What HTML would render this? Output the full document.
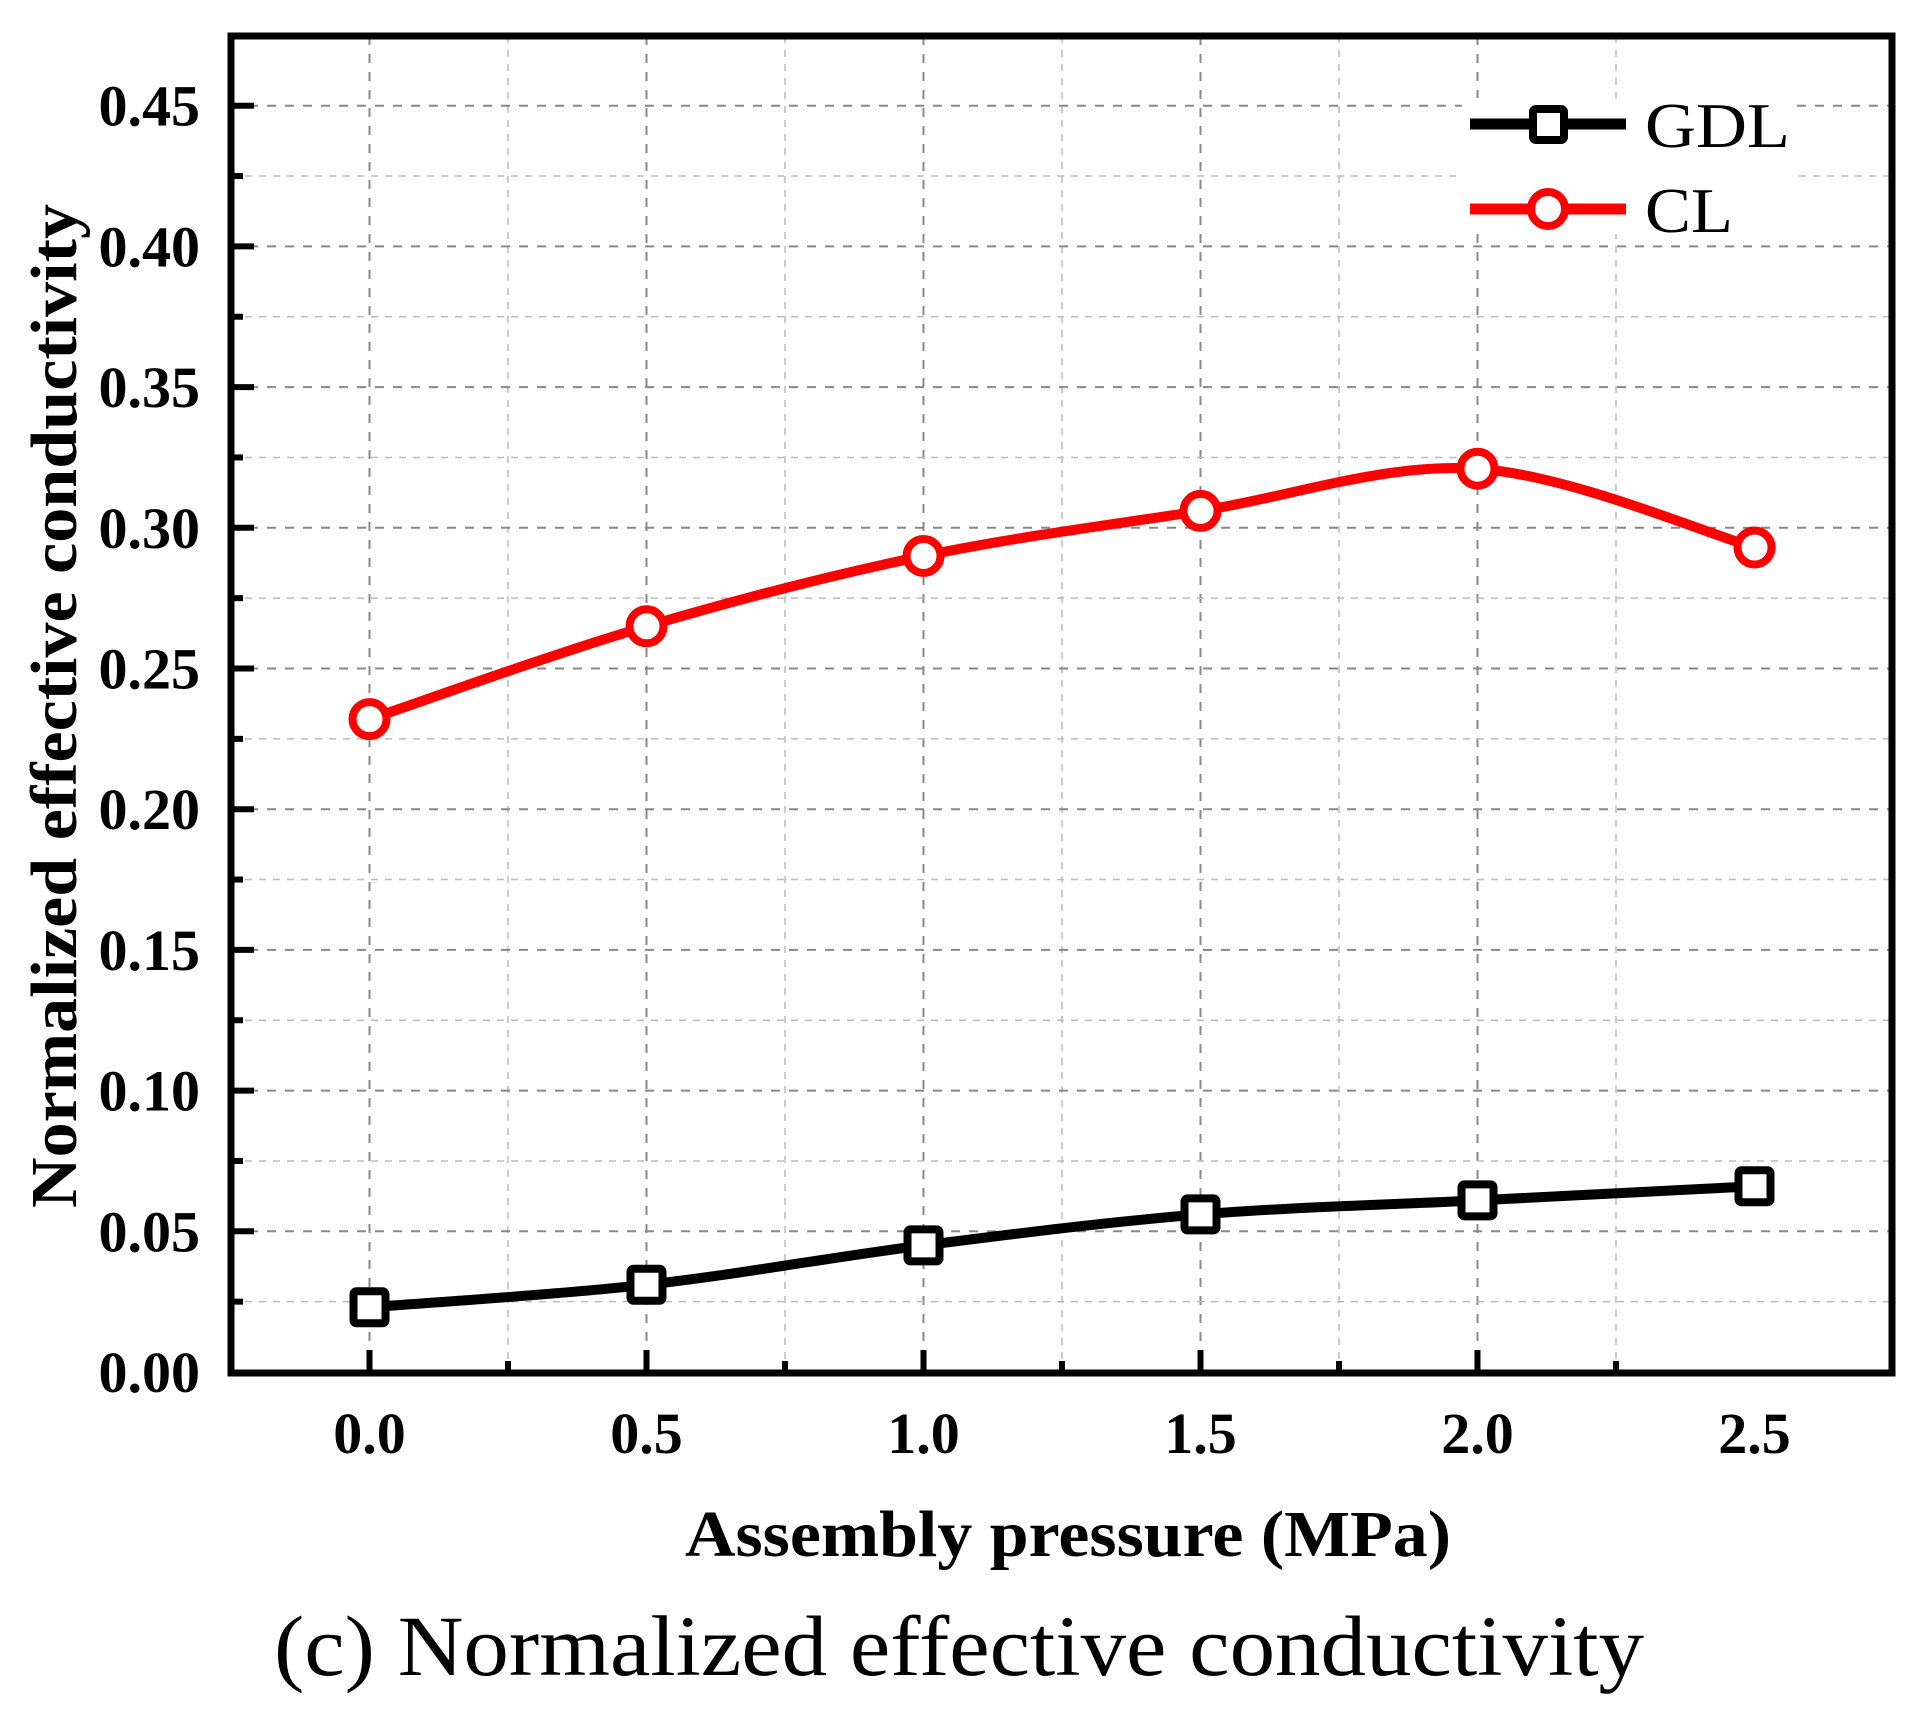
<!DOCTYPE html>
<html><head><meta charset="utf-8"><style>
html,body{margin:0;padding:0;background:#fff;}
svg{display:block;}
</style></head><body>
<svg id="chart" width="1924" height="1717" viewBox="0 0 1924 1717" xmlns="http://www.w3.org/2000/svg" font-family="'Liberation Serif', serif">
<g id="grid"></g>
<g id="series"></g>
<g id="axes"></g>
<g id="legend">
  <rect x="1462" y="98" width="334" height="136" fill="#fff"/>
  <g>
    <line x1="1470" y1="124" x2="1626" y2="124" stroke="#000" stroke-width="11"/>
    <rect x="1533" y="109" width="31" height="31" rx="3" fill="#fff" stroke="#000" stroke-width="8"/>
    <text x="1645" y="147" font-size="64" fill="#000" textLength="145" lengthAdjust="spacingAndGlyphs">GDL</text>
  </g>
  <g>
    <line x1="1470" y1="209" x2="1626" y2="209" stroke="#f00" stroke-width="11"/>
    <circle cx="1548" cy="209" r="17" fill="#fff" stroke="#f00" stroke-width="8"/>
    <text x="1645" y="232" font-size="64" fill="#000" textLength="88" lengthAdjust="spacingAndGlyphs">CL</text>
  </g>
</g>
<text x="1068" y="1556" font-size="66" font-weight="bold" text-anchor="middle" textLength="766" lengthAdjust="spacingAndGlyphs">Assembly pressure (MPa)</text>
<text transform="translate(76,706) rotate(-90)" font-size="66" font-weight="bold" text-anchor="middle" textLength="1004" lengthAdjust="spacingAndGlyphs">Normalized effective conductivity</text>
<text x="959" y="1675" font-size="86" text-anchor="middle" textLength="1370" lengthAdjust="spacingAndGlyphs">(c) Normalized effective conductivity</text>
</svg>
<script>
const xCategories = [0.0, 0.5, 1.0, 1.5, 2.0, 2.5];
const gdlValues = [0.023, 0.031, 0.045, 0.056, 0.061, 0.066];
const clValues = [0.232, 0.265, 0.290, 0.306, 0.321, 0.293];
const xTickLabels = ["0.0","0.5","1.0","1.5","2.0","2.5"];
const yTickValues = [0,0.05,0.10,0.15,0.20,0.25,0.30,0.35,0.40,0.45];
const yTickLabels = ["0.00","0.05","0.10","0.15","0.20","0.25","0.30","0.35","0.40","0.45"];

const NS = "http://www.w3.org/2000/svg";
const L = 231, R = 1892, T = 36, B = 1373;
function xs(v){ return 369.5 + v * 554; }
function ys(v){ return 1372 - v * 2814; }
function mk(tag, attrs, parent){
  const e = document.createElementNS(NS, tag);
  for (const k in attrs) e.setAttribute(k, attrs[k]);
  parent.appendChild(e);
  return e;
}
const grid = document.getElementById('grid');
const axes = document.getElementById('axes');
const series = document.getElementById('series');

for (let i = 0; i <= 10; i++) {
  const v = -0.25 + i * 0.25;
  const x = xs(v);
  if (x <= L + 3 || x >= R - 3) continue;
  const major = Math.abs(v*2 - Math.round(v*2)) < 1e-6;
  const g = mk('line', {x1:x, y1:T, x2:x, y2:B, stroke: major ? '#888' : '#bbb', 'stroke-width': major ? 2 : 1.5, 'stroke-dasharray': major ? '9,9' : '7,7'}, grid);
  
  
}
for (let i = 1; i <= 19; i++) {
  const v = i * 0.025;
  const y = ys(v);
  if (y <= T + 3) continue;
  const major = i % 2 === 0;
  const g = mk('line', {x1:L, y1:y, x2:R, y2:y, stroke: major ? '#888' : '#bbb', 'stroke-width': major ? 2 : 1.5, 'stroke-dasharray': major ? '9,9' : '7,7'}, grid);
  
  
}

const frame = mk('rect', {x:L, y:T, width:R-L, height:B-T, fill:'none', stroke:'#000', 'stroke-width':7}, axes);



for (let i = 0; i <= 10; i++) {
  const v = -0.25 + i * 0.25;
  const x = xs(v);
  if (x <= L + 3 || x >= R - 3) continue;
  const major = Math.abs(v*2 - Math.round(v*2)) < 1e-6;
  const t = mk('line', {x1:x, y1:B, x2:x, y2:B - (major ? 23 : 12), stroke:'#000', 'stroke-width':6}, axes);
  
  
}
xCategories.forEach((v, i) => {
  const t = mk('text', {x: xs(v), y: 1453, 'font-size': 58, 'font-weight':'bold', 'text-anchor':'middle'}, axes);
  t.textContent = xTickLabels[i];
  
  
});
for (let i = 1; i <= 19; i++) {
  const v = i * 0.025;
  const y = ys(v);
  if (y <= T + 3) continue;
  const major = i % 2 === 0;
  const t = mk('line', {x1:L, y1:y, x2:L + (major ? 23 : 12), y2:y, stroke:'#000', 'stroke-width':6}, axes);
  
  
}
yTickValues.forEach((v, i) => {
  const t = mk('text', {x: 200, y: ys(v) + 20, 'font-size': 58, 'font-weight':'bold', 'text-anchor':'end'}, axes);
  t.textContent = yTickLabels[i];
  
  
});

function splinePath(pts){
  let d = 'M' + pts[0][0] + ',' + pts[0][1];
  for (let i = 0; i < pts.length - 1; i++) {
    const p0 = pts[i-1] || pts[i], p1 = pts[i], p2 = pts[i+1], p3 = pts[i+2] || pts[i+1];
    const c1 = [p1[0] + (p2[0]-p0[0])/6, p1[1] + (p2[1]-p0[1])/6];
    const c2 = [p2[0] - (p3[0]-p1[0])/6, p2[1] - (p3[1]-p1[1])/6];
    d += ' C' + c1[0] + ',' + c1[1] + ' ' + c2[0] + ',' + c2[1] + ' ' + p2[0] + ',' + p2[1];
  }
  return d;
}

const gdlPts = xCategories.map((v, i) => [xs(v), ys(gdlValues[i])]);
const clPts = xCategories.map((v, i) => [xs(v), ys(clValues[i])]);

const gl = mk('path', {d: splinePath(gdlPts), fill:'none', stroke:'#000', 'stroke-width':10}, series);


const cl = mk('path', {d: splinePath(clPts), fill:'none', stroke:'#f00', 'stroke-width':10}, series);



gdlPts.forEach(p => {
  const m = mk('rect', {x:p[0]-16, y:p[1]-16, width:32, height:32, rx:3, fill:'#fff', stroke:'#000', 'stroke-width':8}, series);
  
  
});
clPts.forEach(p => {
  const m = mk('circle', {cx:p[0], cy:p[1], r:17, fill:'#fff', stroke:'#f00', 'stroke-width':8}, series);
  
  
});
</script>
</body></html>
